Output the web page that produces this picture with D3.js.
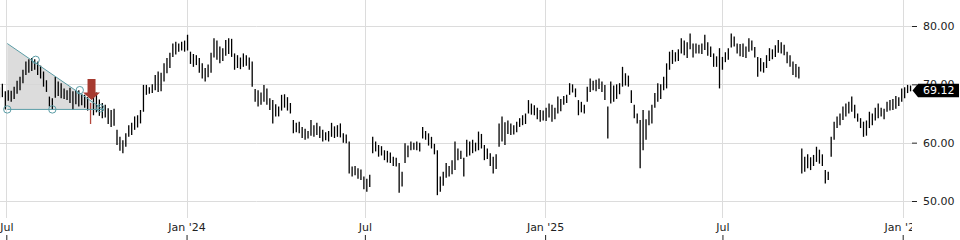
<!DOCTYPE html>
<html>
<head>
<meta charset="utf-8">
<script src="https://cdn.jsdelivr.net/npm/d3@7"></script>
<style>
  body { margin: 0; background: #fff; }
  svg { display: block; font-family: "DejaVu Sans", sans-serif; }
</style>
</head>
<body>
<svg id="chart" width="960" height="240"></svg>
<script>
// bars every 3 calendar days starting here
const firstBar = new Date(2023, 5, 24);
const barStepDays = 3;

const highs = [
  69.5, 70.1, 68.8, 69.0, 68.9, 69.6, 70.6, 71.3, 72.5, 73.9,
  74.3, 74.5, 74.3, 73.9, 73.2, 72.2, 70.7, 67.9, 67.6, 71.3,
  70.5, 70.2, 69.3, 69.0, 69.4, 68.8, 69.0, 69.0, 68.4, 68.2,
  67.8, 66.8, 68.0, 68.6, 67.4, 66.8, 66.5, 65.9, 65.6, 65.8,
  62.2, 61.0, 60.4, 61.6, 63.0, 63.4, 64.5, 64.7, 65.6, 69.9,
  69.9, 69.5, 70.0, 71.6, 72.2, 72.0, 73.6, 74.5, 75.4, 77.0,
  77.3, 77.0, 77.3, 77.5, 78.5, 75.6, 75.2, 75.0, 74.5, 73.6,
  72.8, 73.4, 75.4, 77.9, 77.5, 76.5, 76.2, 77.6, 77.9, 77.8,
  75.3, 75.0, 74.6, 75.3, 75.0, 74.6, 73.9, 69.2, 69.0, 68.6,
  69.9, 69.3, 67.6, 67.3, 66.6, 66.2, 68.2, 68.3, 67.8, 66.8,
  63.9, 63.4, 63.6, 62.7, 62.4, 62.0, 63.9, 63.0, 63.4, 62.8,
  62.2, 61.8, 62.0, 63.4, 62.8, 63.0, 63.3, 61.6, 61.4, 60.2,
  55.9, 56.0, 55.6, 55.4, 54.2, 53.8, 54.5, 61.0, 60.2, 59.6,
  59.4, 58.7, 58.6, 58.3, 57.6, 57.4, 56.5, 55.0, 59.9, 59.5,
  60.2, 60.0, 60.2, 60.0, 62.7, 62.0, 61.6, 61.0, 59.8, 58.7,
  54.2, 55.0, 56.5, 56.0, 57.0, 60.2, 59.0, 58.6, 57.4, 60.5,
  60.2, 60.5, 60.0, 61.9, 61.5, 59.6, 59.0, 58.2, 57.6, 58.0,
  63.3, 64.5, 63.5, 63.8, 63.3, 63.0, 63.6, 64.2, 64.7, 65.0,
  67.3, 66.7, 66.4, 66.0, 65.6, 65.5, 66.0, 66.7, 66.5, 66.0,
  67.9, 67.5, 68.0, 68.2, 70.2, 70.0, 69.3, 67.3, 67.0, 66.5,
  69.6, 71.0, 70.6, 70.8, 71.0, 70.5, 69.9, 66.2, 70.5, 69.8,
  70.0, 70.2, 73.0, 71.9, 71.5, 69.0, 66.5, 65.0, 63.9, 65.6,
  64.0, 65.5, 66.5, 68.5, 70.2, 70.0, 71.3, 73.6, 75.6, 75.9,
  75.5, 76.0, 77.9, 77.5, 77.2, 78.7, 77.0, 77.0, 76.8, 77.0,
  78.5, 77.2, 76.5, 75.3, 74.8, 76.2, 74.7, 75.5, 76.2, 78.7,
  78.2, 77.0, 76.9, 77.0, 76.5, 77.9, 77.5, 76.4, 74.7, 74.5,
  73.8, 75.0, 76.2, 76.0, 76.7, 77.6, 77.2, 76.8, 75.6, 75.0,
  73.9, 73.5, 73.0, 59.0, 57.6, 58.0, 57.5, 57.9, 59.3, 58.8,
  58.0, 55.3, 55.0, 61.0, 63.6, 64.5, 65.0, 66.2, 66.7, 67.0,
  67.9, 66.5, 65.0, 64.2, 63.6, 63.8, 65.3, 65.0, 66.0, 66.7,
  66.0, 65.8, 67.0, 67.3, 67.5, 68.0, 67.8, 69.3, 69.5, 69.9, 69.8
];

const lows = [
  67.6, 67.8, 65.7, 67.2, 67.0, 67.5, 68.4, 69.0, 70.2, 71.6,
  72.0, 72.3, 72.5, 71.6, 71.0, 69.6, 68.7, 66.2, 65.7, 67.7,
  68.0, 67.6, 67.5, 67.3, 66.8, 65.6, 66.6, 66.2, 66.4, 66.0,
  65.5, 63.2, 64.7, 65.2, 64.6, 64.2, 64.3, 63.2, 62.7, 62.9,
  59.6, 58.6, 58.2, 59.3, 61.0, 61.3, 62.2, 62.6, 63.3, 65.3,
  68.2, 68.4, 68.5, 69.0, 68.7, 68.8, 70.5, 71.9, 72.8, 74.7,
  75.1, 75.6, 75.8, 75.6, 75.8, 73.5, 73.0, 73.3, 72.0, 71.0,
  70.5, 71.2, 72.0, 74.6, 74.2, 73.6, 74.0, 74.9, 75.2, 74.7,
  72.5, 72.8, 72.6, 73.0, 73.2, 72.5, 69.6, 67.0, 66.2, 66.5,
  67.0, 66.5, 65.6, 63.3, 64.5, 64.5, 65.5, 66.0, 65.5, 65.0,
  61.6, 61.8, 61.6, 60.8, 60.5, 60.7, 61.2, 61.0, 61.3, 60.8,
  60.2, 60.4, 60.2, 61.0, 60.8, 61.0, 60.9, 60.0, 59.9, 54.7,
  54.2, 54.4, 53.8, 53.6, 52.0, 51.6, 52.4, 58.2, 58.5, 57.6,
  57.8, 57.0, 56.6, 56.5, 56.0, 55.9, 51.4, 52.5, 56.5, 57.5,
  58.7, 58.8, 58.7, 58.5, 60.7, 60.5, 59.5, 59.0, 58.0, 51.0,
  51.6, 52.6, 54.0, 54.2, 54.6, 55.3, 57.0, 57.2, 54.2, 57.6,
  57.8, 58.2, 58.5, 58.7, 59.0, 57.0, 57.2, 56.0, 54.7, 55.5,
  59.3, 60.2, 59.6, 61.5, 61.3, 61.4, 61.8, 62.7, 63.0, 63.2,
  65.0, 64.8, 64.7, 64.0, 63.6, 63.8, 63.7, 64.3, 63.6, 64.0,
  65.0, 65.4, 66.5, 66.8, 68.2, 68.6, 67.8, 64.7, 65.2, 65.0,
  67.0, 68.7, 69.0, 68.8, 69.2, 68.7, 67.3, 60.7, 66.7, 67.0,
  67.5, 68.3, 69.6, 69.8, 69.6, 66.8, 64.2, 63.3, 55.6, 58.7,
  60.5, 63.0, 63.3, 66.0, 67.0, 67.5, 69.0, 69.3, 72.5, 73.5,
  73.9, 74.0, 75.3, 75.0, 74.5, 76.0, 74.6, 75.3, 75.3, 75.2,
  75.9, 74.9, 74.7, 73.0, 73.0, 69.3, 72.5, 73.8, 74.2, 76.3,
  76.5, 75.3, 74.8, 74.7, 74.5, 75.6, 75.8, 74.6, 71.3, 72.2,
  72.0, 72.8, 74.0, 74.3, 74.7, 75.4, 75.3, 75.0, 73.6, 73.0,
  71.6, 71.2, 71.0, 54.7, 55.0, 55.6, 55.3, 56.0, 56.7, 56.4,
  56.0, 53.0, 53.6, 57.6, 60.5, 62.5, 63.0, 63.9, 64.5, 65.0,
  65.3, 64.2, 63.6, 62.5, 61.0, 61.2, 62.5, 63.0, 63.8, 64.2,
  64.5, 64.0, 65.3, 65.5, 65.6, 65.8, 66.3, 67.0, 67.6, 68.5, 68.8
];

const lastClose = 69.12;
const signalBar = 31;

const priceTicks = [50, 60, 70, 80];
const timeTicks = [
  new Date(2023, 6, 1), new Date(2024, 0, 1), new Date(2024, 6, 1),
  new Date(2025, 0, 1), new Date(2025, 6, 1), new Date(2026, 0, 1)
];
const timeTickLabels = ["Jul", "Jan '24", "Jul", "Jan '25", "Jul", "Jan '26"];

// descending triangle drawn on the chart
const triangleDates = [new Date(2023, 6, 2), new Date(2023, 9, 8), new Date(2023, 6, 2)];
const trianglePrices = [77.0, 65.7, 65.7];
const touchDates = [new Date(2023, 6, 2), new Date(2023, 6, 31), new Date(2023, 7, 17), new Date(2023, 8, 14), new Date(2023, 9, 5)];
const touchPrices = [65.7, 74.2, 65.7, 69.0, 65.9];
const arrowDate = new Date(2023, 8, 26);
const arrowPrice = 67.3;

const width = 960, height = 240;
const plotRight = 912, plotBottom = 218;

const svg = d3.select("#chart");

const x = d3.scaleTime()
  .domain([timeTicks[0], timeTicks[timeTicks.length - 1]])
  .range([6.3, 902.7]);

const y = d3.scaleLinear()
  .domain([50, 80])
  .range([201, 26]);

const bars = highs.map((h, i) => ({
  date: d3.timeDay.offset(firstBar, i * barStepDays),
  high: h,
  low: lows[i]
}));

svg.append("defs").append("clipPath").attr("id", "plotClip")
  .append("rect").attr("x", 0).attr("y", 0).attr("width", plotRight).attr("height", height);

// grid
const grid = svg.append("g").attr("clip-path", "url(#plotClip)");
grid.selectAll("line.h")
  .data(priceTicks)
  .enter().append("line")
  .attr("class", "h")
  .attr("x1", 0).attr("x2", plotRight)
  .attr("y1", d => Math.round(y(d)) + 0.5).attr("y2", d => Math.round(y(d)) + 0.5)
  .attr("stroke", "#dcdcdc");
grid.selectAll("line.v")
  .data(timeTicks)
  .enter().append("line")
  .attr("class", "v")
  .attr("x1", d => Math.round(x(d)) + 0.5).attr("x2", d => Math.round(x(d)) + 0.5)
  .attr("y1", 0).attr("y2", plotBottom)
  .attr("stroke", "#dcdcdc");

const plot = svg.append("g").attr("clip-path", "url(#plotClip)");

// triangle fill
const tri = triangleDates.map((d, i) => [x(d), y(trianglePrices[i])]);
plot.append("path")
  .attr("d", d3.line()(tri) + "Z")
  .attr("fill", "#d6d6d6")
  .attr("fill-opacity", 0.85);

// price bars
plot.selectAll("line.bar")
  .data(bars)
  .enter().append("line")
  .attr("class", "bar")
  .attr("x1", d => x(d.date)).attr("x2", d => x(d.date))
  .attr("y1", d => y(d.high)).attr("y2", d => y(d.low))
  .attr("stroke", (d, i) => i === signalBar ? "#b4483d" : "#000")
  .attr("stroke-width", 1.3);

// triangle edges and touch points
const teal = "#5b9da6";
plot.append("line")
  .attr("x1", tri[0][0]).attr("y1", tri[0][1])
  .attr("x2", tri[1][0]).attr("y2", tri[1][1])
  .attr("stroke", teal).attr("stroke-width", 1);
plot.append("line")
  .attr("x1", tri[2][0]).attr("y1", tri[2][1])
  .attr("x2", tri[1][0]).attr("y2", tri[1][1])
  .attr("stroke", teal).attr("stroke-width", 1);
plot.selectAll("circle.touch")
  .data(touchDates)
  .enter().append("circle")
  .attr("class", "touch")
  .attr("cx", d => x(d))
  .attr("cy", (d, i) => y(touchPrices[i]))
  .attr("r", 3.7)
  .attr("fill", "none")
  .attr("stroke", teal)
  .attr("stroke-width", 1);

// breakout arrow
const ax = x(arrowDate), ay = y(arrowPrice);
plot.append("path")
  .attr("d", `M${ax},${ay} L${ax - 8.5},${ay - 7.5} L${ax - 4},${ay - 7.5} L${ax - 4},${ay - 21} L${ax + 4},${ay - 21} L${ax + 4},${ay - 7.5} L${ax + 8.5},${ay - 7.5} Z`)
  .attr("fill", "#a63a30");

// x axis labels
const xAxis = svg.append("g")
  .attr("clip-path", "url(#plotClip)")
  .append("g")
  .attr("transform", `translate(0,${plotBottom})`)
  .call(d3.axisBottom(x).tickValues(timeTicks).tickFormat((d, i) => timeTickLabels[i]).tickSize(0).tickPadding(5));
xAxis.select(".domain").remove();
xAxis.selectAll("text").attr("font-size", 11).attr("fill", "#222").attr("font-family", "DejaVu Sans, sans-serif");

// x tick marks at the bottom edge
const xMarks = svg.append("g")
  .attr("transform", "translate(0,235)")
  .call(d3.axisBottom(x).tickValues(timeTicks).tickFormat("").tickSize(5));
xMarks.select(".domain").remove();
xMarks.selectAll("line").attr("stroke", "#222");

// y axis
const yAxis = svg.append("g")
  .attr("transform", `translate(${plotRight},0)`)
  .call(d3.axisRight(y).tickValues(priceTicks).tickFormat(d3.format(".2f")).tickSize(5).tickPadding(6));
yAxis.select(".domain").remove();
yAxis.selectAll("line").attr("stroke", "#222");
yAxis.selectAll("text").attr("font-size", 11).attr("fill", "#222").attr("font-family", "DejaVu Sans, sans-serif");

// last price tag
const ly = y(lastClose) + 1;
svg.append("path")
  .attr("d", `M${plotRight + 0.5},${ly} L${plotRight + 6},${ly - 6.8} L${width - 1},${ly - 6.8} L${width - 1},${ly + 6.8} L${plotRight + 6},${ly + 6.8} Z`)
  .attr("fill", "#000");
svg.append("text")
  .attr("x", 923)
  .attr("y", ly)
  .attr("dy", "0.35em")
  .attr("font-size", 11)
  .attr("fill", "#fff")
  .text(d3.format(".2f")(lastClose));
</script>
</body>
</html>
